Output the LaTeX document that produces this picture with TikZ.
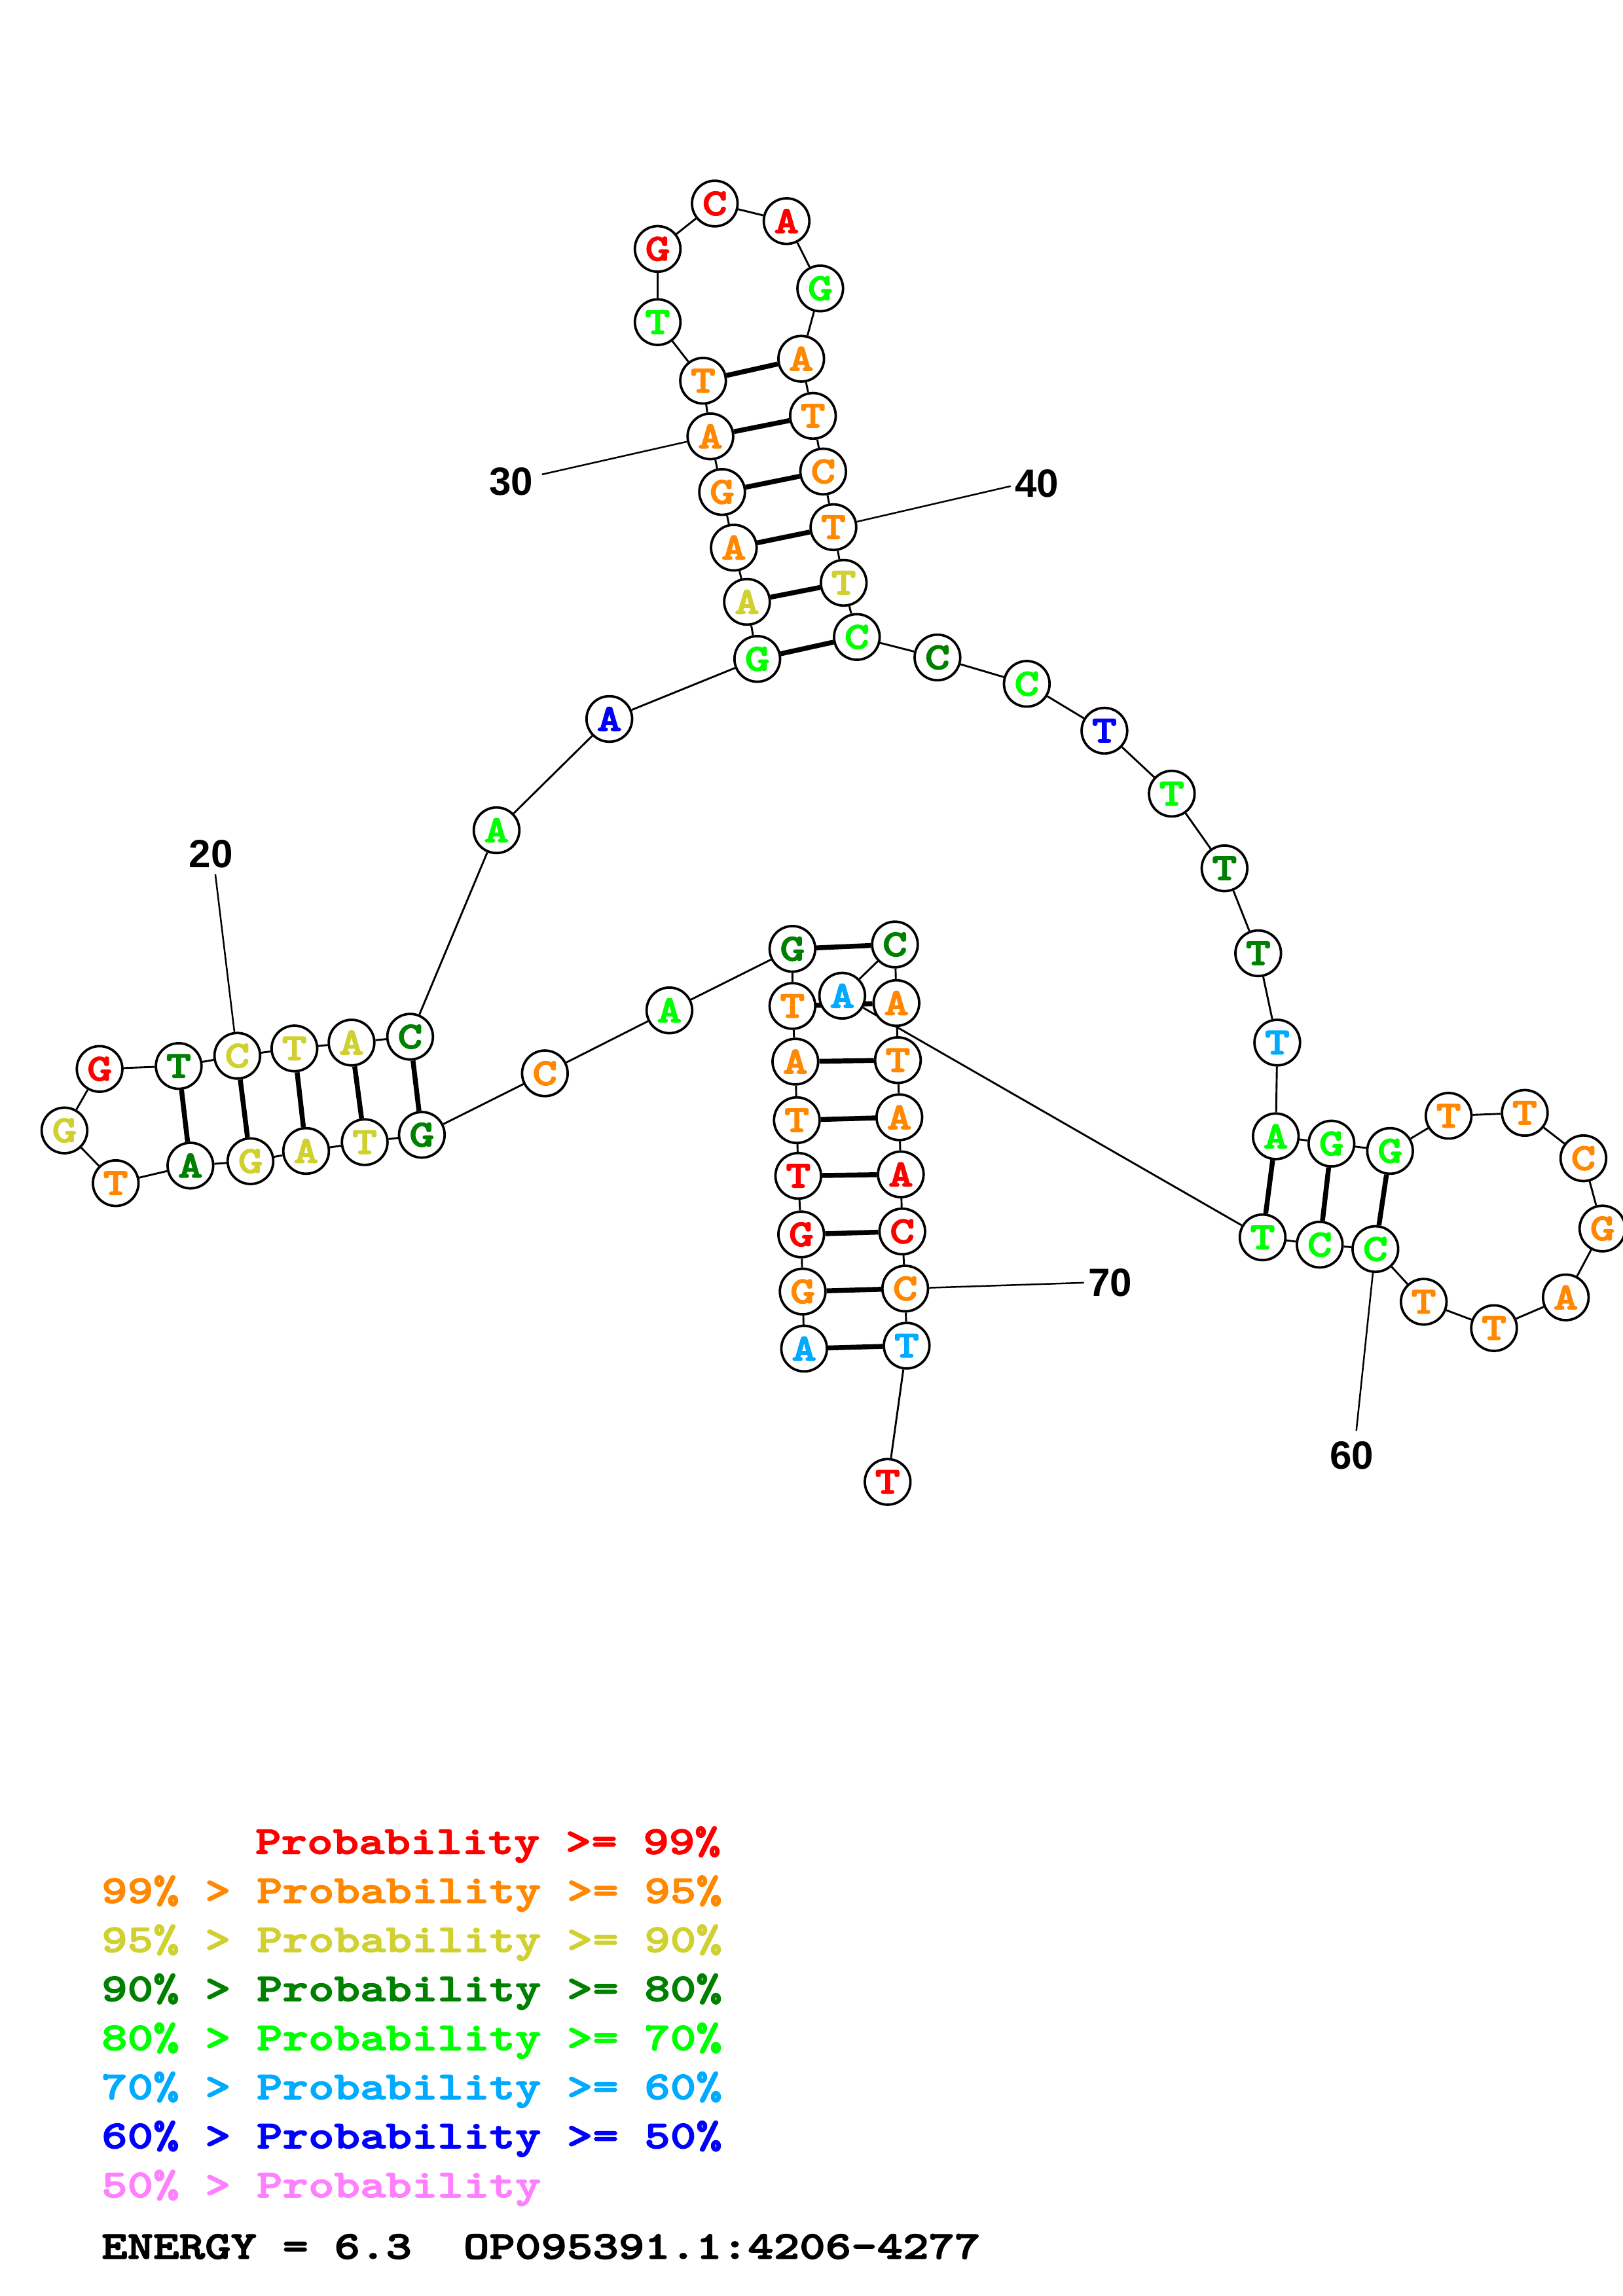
\documentclass[tikz,border=0pt]{standalone}
\usepackage{fontspec}
\usetikzlibrary{backgrounds}
\newfontfamily\monobold{lmmonolt10-bold}[Extension=.otf, FakeStretch=1.25, FakeBold=2.5]
\newfontfamily\labelsans{Liberation Sans}
\definecolor{c99}{RGB}{255,0,0}
\definecolor{c95}{RGB}{255,136,0}
\definecolor{c90}{RGB}{208,208,48}
\definecolor{c80}{RGB}{0,128,0}
\definecolor{c70}{RGB}{0,255,0}
\definecolor{c60}{RGB}{0,170,255}
\definecolor{c50}{RGB}{0,0,255}
\definecolor{c00}{RGB}{255,128,255}

\begin{document}
\begin{tikzpicture}[x=0.018944cm, y=-0.018944cm,
        nuc/.style={circle, draw=black, fill=white, line width=0.9pt, minimum size=0.59cm, inner sep=0pt, font=\monobold\fontsize{14}{14}\selectfont},
        bb/.style={line width=0.7pt},
        bp/.style={line width=1.8pt},
        numline/.style={line width=0.6pt},
        numlab/.style={font=\labelsans\bfseries\fontsize{14.5}{14.5}\selectfont},
        keytext/.style={anchor=base west, inner sep=0pt, font=\monobold\fontsize{14.5}{14.5}\selectfont}]
    \useasboundingbox (0,0) rectangle (1108,1568);

    % bases 1-72
    \node (n1) at (549,921) [nuc, text=c60]{A};
    \node (n2) at (548,882) [nuc, text=c95]{G};
    \node (n3) at (547,843) [nuc, text=c99]{G};
    \node (n4) at (545,803) [nuc, text=c99]{T};
    \node (n5) at (544,765) [nuc, text=c95]{T};
    \node (n6) at (543,725) [nuc, text=c95]{A};
    \node (n7) at (541,687) [nuc, text=c95]{T};
    \node (n8) at (541,648) [nuc, text=c80]{G};
    \node (n9) at (457,690) [nuc, text=c70]{A};
    \node (n10) at (372,733) [nuc, text=c95]{C};
    \node (n11) at (288,775) [nuc, text=c80]{G};
    \node (n12) at (249,780) [nuc, text=c90]{T};
    \node (n13) at (209,786) [nuc, text=c90]{A};
    \node (n14) at (171,793) [nuc, text=c90]{G};
    \node (n15) at (130,796) [nuc, text=c80]{A};
    \node (n16) at (79,808) [nuc, text=c95]{T};
    \node (n17) at (44,772) [nuc, text=c90]{G};
    \node (n18) at (68,730) [nuc, text=c99]{G};
    \node (n19) at (122,728) [nuc, text=c80]{T};
    \node (n20) at (162,721) [nuc, text=c90]{C};
    \node (n21) at (201,716) [nuc, text=c90]{T};
    \node (n22) at (240,712) [nuc, text=c90]{A};
    \node (n23) at (280,708) [nuc, text=c80]{C};
    \node (n24) at (339,567) [nuc, text=c70]{A};
    \node (n25) at (416,491) [nuc, text=c50]{A};
    \node (n26) at (517,450) [nuc, text=c70]{G};
    \node (n27) at (510,411) [nuc, text=c90]{A};
    \node (n28) at (501,374) [nuc, text=c95]{A};
    \node (n29) at (493,336) [nuc, text=c95]{G};
    \node (n30) at (485,298) [nuc, text=c95]{A};
    \node (n31) at (480,260) [nuc, text=c95]{T};
    \node (n32) at (449,220) [nuc, text=c70]{T};
    \node (n33) at (449,170) [nuc, text=c99]{G};
    \node (n34) at (488,139) [nuc, text=c99]{C};
    \node (n35) at (537,151) [nuc, text=c99]{A};
    \node (n36) at (560,197) [nuc, text=c70]{G};
    \node (n37) at (547,245) [nuc, text=c95]{A};
    \node (n38) at (555,284) [nuc, text=c95]{T};
    \node (n39) at (562,322) [nuc, text=c95]{C};
    \node (n40) at (569,360) [nuc, text=c95]{T};
    \node (n41) at (576,398) [nuc, text=c90]{T};
    \node (n42) at (585,435) [nuc, text=c70]{C};
    \node (n43) at (640,449) [nuc, text=c80]{C};
    \node (n44) at (701,467) [nuc, text=c70]{C};
    \node (n45) at (754,499) [nuc, text=c50]{T};
    \node (n46) at (800,542) [nuc, text=c70]{T};
    \node (n47) at (836,593) [nuc, text=c80]{T};
    \node (n48) at (859,651) [nuc, text=c80]{T};
    \node (n49) at (872,712) [nuc, text=c60]{T};
    \node (n50) at (871,776) [nuc, text=c70]{A};
    \node (n51) at (909,781) [nuc, text=c70]{G};
    \node (n52) at (949,786) [nuc, text=c70]{G};
    \node (n53) at (989,762) [nuc, text=c95]{T};
    \node (n54) at (1041,760) [nuc, text=c95]{T};
    \node (n55) at (1081,791) [nuc, text=c95]{C};
    \node (n56) at (1094,839) [nuc, text=c95]{G};
    \node (n57) at (1069,886) [nuc, text=c95]{A};
    \node (n58) at (1020,907) [nuc, text=c95]{T};
    \node (n59) at (972,889) [nuc, text=c95]{T};
    \node (n60) at (939,853) [nuc, text=c70]{C};
    \node (n61) at (901,850) [nuc, text=c70]{C};
    \node (n62) at (862,845) [nuc, text=c70]{T};
    \node (n63) at (575,680) [nuc, text=c60]{A};
    \node (n64) at (611,645) [nuc, text=c80]{C};
    \node (n65) at (612,685) [nuc, text=c95]{A};
    \node (n66) at (613,724) [nuc, text=c95]{T};
    \node (n67) at (614,763) [nuc, text=c95]{A};
    \node (n68) at (615,802) [nuc, text=c99]{A};
    \node (n69) at (616,841) [nuc, text=c99]{C};
    \node (n70) at (618,880) [nuc, text=c95]{C};
    \node (n71) at (619,919) [nuc, text=c60]{T};
    \node (n72) at (606,1012) [nuc, text=c99]{T};

    % position numbers
    \node (t20) at (144,583) [numlab]{20};
    \node (t30) at (349,329) [numlab]{30};
    \node (t40) at (708,330) [numlab]{40};
    \node (t60) at (923,994) [numlab]{60};
    \node (t70) at (758,876) [numlab]{70};
    \coordinate (e20) at (147,597);
    \coordinate (e30) at (370,324);
    \coordinate (e40) at (690,332);
    \coordinate (e60) at (926,977);
    \coordinate (e70) at (740,876);

    \begin{scope}[on background layer]
        % backbone
        \draw[bb] (n1) -- (n2) -- (n3) -- (n4) -- (n5) -- (n6) -- (n7) -- (n8) -- (n9) -- (n10) -- (n11);
        \draw[bb] (n11) -- (n12) -- (n13) -- (n14) -- (n15) -- (n16) -- (n17) -- (n18) -- (n19) -- (n20) -- (n21) -- (n22) -- (n23);
        \draw[bb] (n23) -- (n24) -- (n25) -- (n26) -- (n27) -- (n28) -- (n29) -- (n30) -- (n31) -- (n32) -- (n33) -- (n34) -- (n35) -- (n36) -- (n37);
        \draw[bb] (n37) -- (n38) -- (n39) -- (n40) -- (n41) -- (n42) -- (n43) -- (n44) -- (n45) -- (n46) -- (n47) -- (n48) -- (n49) -- (n50);
        \draw[bb] (n50) -- (n51) -- (n52) -- (n53) -- (n54) -- (n55) -- (n56) -- (n57) -- (n58) -- (n59) -- (n60) -- (n61) -- (n62);
        \draw[bb] (n62) -- (n63) -- (n64) -- (n65) -- (n66) -- (n67) -- (n68) -- (n69) -- (n70) -- (n71) -- (n72);

        % base pairs
        \draw[bp] (n1) -- (n71);
        \draw[bp] (n2) -- (n70);
        \draw[bp] (n3) -- (n69);
        \draw[bp] (n4) -- (n68);
        \draw[bp] (n5) -- (n67);
        \draw[bp] (n6) -- (n66);
        \draw[bp] (n7) -- (n65);
        \draw[bp] (n8) -- (n64);
        \draw[bp] (n11) -- (n23);
        \draw[bp] (n12) -- (n22);
        \draw[bp] (n13) -- (n21);
        \draw[bp] (n14) -- (n20);
        \draw[bp] (n15) -- (n19);
        \draw[bp] (n26) -- (n42);
        \draw[bp] (n27) -- (n41);
        \draw[bp] (n28) -- (n40);
        \draw[bp] (n29) -- (n39);
        \draw[bp] (n30) -- (n38);
        \draw[bp] (n31) -- (n37);
        \draw[bp] (n50) -- (n62);
        \draw[bp] (n51) -- (n61);
        \draw[bp] (n52) -- (n60);

        % number ticks
        \draw[numline] (e20) -- (n20);
        \draw[numline] (e30) -- (n30);
        \draw[numline] (e40) -- (n40);
        \draw[numline] (e60) -- (n60);
        \draw[numline] (e70) -- (n70);
    \end{scope}

    % colour key
    \node (k99) at (174,1266) [keytext, text=c99]{Probability >= 99\%};
    \node (k95) at (69,1299.5) [keytext, text=c95]{99\% > Probability >= 95\%};
    \node (k90) at (69,1333) [keytext, text=c90]{95\% > Probability >= 90\%};
    \node (k80) at (69,1366.5) [keytext, text=c80]{90\% > Probability >= 80\%};
    \node (k70) at (69,1400) [keytext, text=c70]{80\% > Probability >= 70\%};
    \node (k60) at (69,1433.5) [keytext, text=c60]{70\% > Probability >= 60\%};
    \node (k50) at (69,1467) [keytext, text=c50]{60\% > Probability >= 50\%};
    \node (k00) at (69,1500.5) [keytext, text=c00]{50\% > Probability};
    \node (energy) at (69,1542.5) [keytext]{ENERGY = 6.3\ \ OP095391.1:4206-4277};
\end{tikzpicture}
\end{document}
